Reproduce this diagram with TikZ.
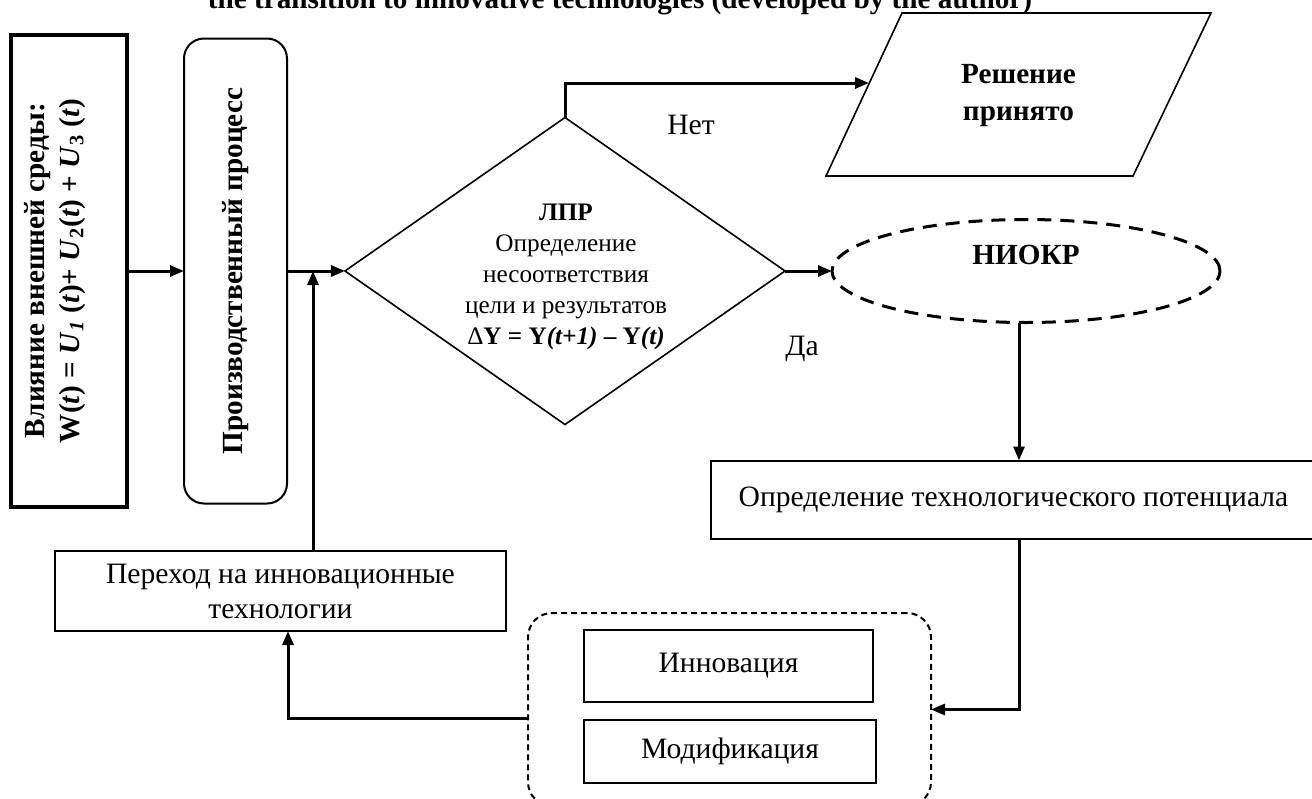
\documentclass[tikz,border=0pt]{standalone}
\usepackage{fontspec}
\setmainfont{Liberation Serif}
\usetikzlibrary{shapes.geometric,arrows.meta,calc}
\begin{document}
\begin{tikzpicture}[x=0.5pt,y=-0.5pt,
    every node/.style = {font=\fontsize{14.8}{17.5}\selectfont, inner sep=0pt, outer sep=0pt},
    main/.style = {draw, line width=1pt, align=center},
    bold/.style = {font=\bfseries\fontsize{14.6}{18.5}\selectfont},
    arr/.style = {line width=1.5pt, -{Triangle[length=7pt,width=5.5pt]}}]
                \useasboundingbox (0,0) rectangle (1312,798);
                \node[bold, anchor=base] (0) at (620,8) {the transition to innovative technologies (developed by the author)};
                \node[main, bold, line width=1.6pt, rotate=90, font=\bfseries\fontsize{14.6}{17.5}\selectfont] (1) [minimum width=236pt, minimum height=58pt] at (69,271) {Влияние внешней среды:\\W(\textit{t}) = \textit{U}\textsubscript{\textit{1}} (\textit{t})+ \textit{U}\textsubscript{2}(\textit{t}) + \textit{U}\textsubscript{3} (\textit{t})\\\mbox{}};
                \node[main, bold, rounded corners=10pt, rotate=90] (2) [minimum width=232.5pt, minimum height=51.5pt] at (235.5,271) {Производственный процесс};
                \node[main, diamond, line width=0.8pt] (3) [minimum width=220pt, minimum height=153.5pt] at (565,271) {};
                \node[align=center, font=\fontsize{12.6}{15.5}\selectfont] (4) at (566,277) {\textbf{ЛПР}\\Определение\\несоответствия\\цели и результатов\\Δ\textbf{Y = Y\textit{(t+1)} – Y\textit{(t)}}};
                \draw[line width=0.8pt] (826,176) -- (902,13) -- (1211,13) -- (1133,176) -- cycle;
                \node[bold, align=center] (5) at (1018.5,96) {Решение\\принято};
                \node[main, bold, ellipse, dash pattern=on 7pt off 4.5pt, line width=1.5pt] (6) [minimum width=194pt, minimum height=51.5pt] at (1026,271) {\raisebox{8pt}[\height][\depth]{НИОКР}};
                \node (7) at (691,125) {Нет};
                \node (8) at (802,349) {Да};
                \node[main] (9) [minimum width=302.5pt, minimum height=39pt] at (1013.5,499.5) {Определение технологического потенциала};
                \node[main] (10) [minimum width=225.5pt, minimum height=40pt] at (280.5,591) {Переход на инновационные\\технологии};
                \node[main, dash pattern=on 3pt off 2pt, rounded corners=12pt] (11) [minimum width=201.5pt, minimum height=96.5pt] at (729.5,709.5) {};
                \node[main] (12) [minimum width=144.5pt, minimum height=36pt] at (728.5,666) {Инновация};
                \node[main] (13) [minimum width=146pt, minimum height=31.5pt] at (730,751.5) {Модификация};
                \coordinate (14) at (313,271);
                \coordinate (15) at (1019,0);
                \coordinate (16) at (288,718);
                \coordinate (17) at (869,83);

                \draw[arr] (1) -- (2);
                \draw[arr] (2) -- (3);
                \draw[arr] (10.north -| 14) -- (14);
                \draw[arr] (3) -- (6);
                \draw[arr] (3.north) |- (17);
                \draw[arr] (6.south -| 15) -- (9.north -| 15);
                \draw[arr] (9.south -| 15) |- (11.east);
                \draw[arr] (11.west |- 16) -| (10.south -| 16);

            \end{tikzpicture}
\end{document}
